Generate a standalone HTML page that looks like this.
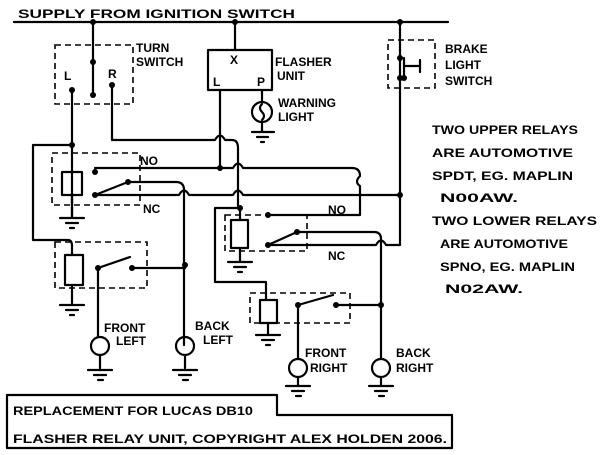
<!DOCTYPE html>
<html><head><style>
html,body{margin:0;padding:0;background:#fff;}
svg{display:block;}
text{font-family:"Liberation Sans",sans-serif;fill:#000;font-size:12px;font-weight:bold;}
</style></head><body>
<svg width="600" height="455" viewBox="0 0 600 455" xmlns="http://www.w3.org/2000/svg">
<g fill="none" stroke="#000" stroke-width="2.2" stroke-linecap="round" stroke-linejoin="round">
<path d="M14 22 H448"/>
<path d="M93 22 V95"/>
<path d="M72 90 V218 M112 85 V140 H215 q5 -9 10 0 H232 q6 0 6 8 V208"/>
<path d="M220 90 V167"/>
<path d="M235 22 V50"/>
<rect x="208" y="50" width="64" height="40"/>
<path d="M262 90 V102 M262 122 V132 M252 132 H274 M257 137 H268 M261 142 H264"/>
<circle cx="262" cy="112" r="10"/>
<path d="M262 104 q-4 4 0 8 q4 4 0 8"/>
<path d="M72 145 H33 V240 H68 q4 0 4 6 V255"/>
<rect x="62" y="172" width="20" height="23"/>
<path d="M72 195 V218 M60 218 H84 M66 223 H78 M70 228 H74"/>
<path d="M95 168 H233 q5 -9 10 0 H352 q8 0 8 8 q-6 6 0 10 V215 H268"/>
<path d="M95 195 L128 182 H176 q8 0 8 8 V345"/>
<path d="M95 195 H179 q5 -9 10 0 H233 q5 -9 10 0 H400"/>
<rect x="65" y="255" width="18" height="30"/>
<path d="M72 285 V305 M60 305 H84 M66 310 H78 M70 315 H74"/>
<path d="M98 268 L130 257 M132 268 H185 M98 268 V337 M100 355 V368 M88 370 H112 M94 375 H106 M98 380 H103"/>
<circle cx="100" cy="346" r="9"/>
<circle cx="185" cy="346" r="9"/>
<path d="M185 355 V368 M173 370 H197 M179 375 H191 M183 380 H188"/>
<path d="M238 208 H215 V282 H266 V300"/>
<rect x="231" y="220" width="17" height="28"/>
<path d="M240 208 V220 M240 248 V262 M228 262 H252 M234 267 H246 M238 272 H242"/>
<path d="M268 245 L297 232 H374 q7 0 7 7 V359"/>
<path d="M268 245 H376 q5 -9 10 0 H400 V22"/>
<rect x="260" y="300" width="17" height="23"/>
<path d="M268 323 V335 M256 335 H280 M262 340 H274 M266 345 H270"/>
<path d="M298 305 L333 295 M336 305 H380 M298 305 V359"/>
<circle cx="298" cy="368" r="9"/>
<circle cx="381" cy="368" r="9"/>
<path d="M298 377 V385 M286 386 H310 M292 391 H304 M296 396 H301 M381 377 V385 M369 386 H393 M375 391 H387 M379 396 H384"/>
<path d="M404 58 V75 M404 66 H420 M420 60 V72"/>
<path d="M7 395 H277 V415 H452 V448 H7 Z"/>
</g>
<g fill="none" stroke="#000" stroke-width="1.6" stroke-dasharray="6,4">
<rect x="55" y="45" width="78" height="59"/>
<rect x="52" y="153" width="88" height="52"/>
<rect x="55" y="242" width="92" height="46"/>
<rect x="225" y="215" width="82" height="36"/>
<rect x="250" y="293" width="100" height="30"/>
<rect x="388" y="40" width="47" height="48"/>
</g>
<g fill="#000">
<circle cx="93" cy="22" r="3"/><circle cx="235" cy="22" r="3"/><circle cx="400" cy="22" r="3"/>
<circle cx="93" cy="62" r="3"/><circle cx="93" cy="95" r="3"/><circle cx="72" cy="90" r="3"/><circle cx="112" cy="85" r="3"/>
<circle cx="72" cy="145" r="3"/><circle cx="220" cy="168" r="3"/><circle cx="95" cy="172" r="3"/><circle cx="95" cy="195" r="3"/><circle cx="128" cy="182" r="3"/>
<circle cx="400" cy="195" r="3"/><circle cx="240" cy="208" r="3"/><circle cx="268" cy="215" r="3"/><circle cx="268" cy="245" r="3"/><circle cx="297" cy="232" r="3"/>
<circle cx="98" cy="268" r="3"/><circle cx="132" cy="268" r="3"/><circle cx="185" cy="265" r="3"/>
<circle cx="298" cy="305" r="3"/><circle cx="336" cy="305" r="3"/><circle cx="381" cy="305" r="3"/>
<circle cx="400" cy="58" r="3"/><circle cx="400" cy="78" r="3"/><circle cx="404" cy="78" r="3"/>
</g>
<text x="18" y="18" font-size="15" textLength="277" lengthAdjust="spacingAndGlyphs">SUPPLY FROM IGNITION SWITCH</text>
<text x="136" y="52" font-size="12">TURN</text>
<text x="136" y="66" font-size="12">SWITCH</text>
<text x="64" y="80" font-size="13">L</text>
<text x="108" y="78" font-size="13">R</text>
<text x="230" y="64" font-size="13">X</text>
<text x="213" y="86" font-size="12">L</text>
<text x="257" y="86" font-size="12">P</text>
<text x="275" y="66" font-size="12">FLASHER</text>
<text x="277" y="80" font-size="12">UNIT</text>
<text x="278" y="107" font-size="11">WARNING</text>
<text x="278" y="121" font-size="11">LIGHT</text>
<text x="445" y="53" font-size="12">BRAKE</text>
<text x="445" y="69" font-size="12">LIGHT</text>
<text x="445" y="85" font-size="12">SWITCH</text>
<text x="140" y="165" font-size="11">NO</text>
<text x="143" y="213" font-size="11">NC</text>
<text x="328" y="214" font-size="11">NO</text>
<text x="328" y="260" font-size="11">NC</text>
<text x="104" y="332" font-size="10">FRONT</text>
<text x="116" y="345" font-size="10">LEFT</text>
<text x="195" y="330" font-size="11">BACK</text>
<text x="203" y="344" font-size="11">LEFT</text>
<text x="305" y="357" font-size="10">FRONT</text>
<text x="310" y="372" font-size="10">RIGHT</text>
<text x="396" y="357" font-size="11">BACK</text>
<text x="396" y="372" font-size="11">RIGHT</text>
<g font-size="13">
<text x="432" y="134" textLength="146" lengthAdjust="spacingAndGlyphs">TWO UPPER RELAYS</text>
<text x="432" y="157" textLength="141" lengthAdjust="spacingAndGlyphs">ARE AUTOMOTIVE</text>
<text x="432" y="180" textLength="141" lengthAdjust="spacingAndGlyphs">SPDT, EG. MAPLIN</text>
<text x="440" y="202" textLength="78" lengthAdjust="spacingAndGlyphs">N00AW.</text>
<text x="432" y="225" textLength="165" lengthAdjust="spacingAndGlyphs">TWO LOWER RELAYS</text>
<text x="440" y="248" textLength="128" lengthAdjust="spacingAndGlyphs">ARE AUTOMOTIVE</text>
<text x="440" y="271" textLength="135" lengthAdjust="spacingAndGlyphs">SPNO, EG. MAPLIN</text>
<text x="445" y="293" textLength="78" lengthAdjust="spacingAndGlyphs">N02AW.</text>
<text x="13" y="415" textLength="240" lengthAdjust="spacingAndGlyphs">REPLACEMENT FOR LUCAS DB10</text>
<text x="13" y="443" textLength="434" lengthAdjust="spacingAndGlyphs">FLASHER RELAY UNIT, COPYRIGHT ALEX HOLDEN 2006.</text>
</g>
</svg>
</body></html>
